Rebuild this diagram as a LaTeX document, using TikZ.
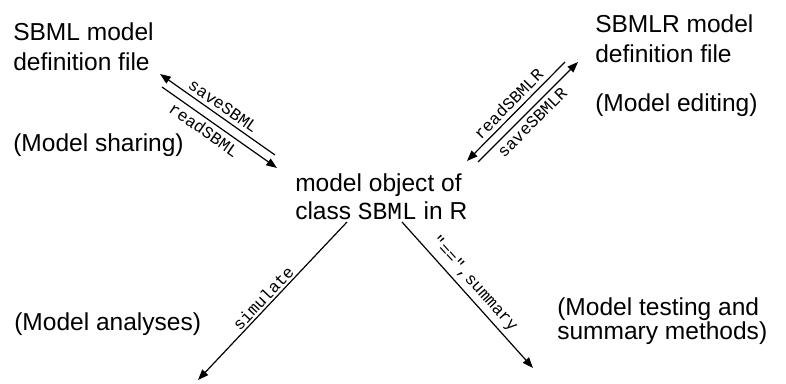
\documentclass[tikz,border=0pt]{standalone}
\usepackage{fontspec}
\setmainfont{Liberation Sans}
\setmonofont{Liberation Mono}
\usetikzlibrary{arrows.meta}

\tikzset{
  blocktext/.style={anchor=base west, inner sep=0pt, align=left,
    font=\fontsize{18.4pt}{22.5pt}\selectfont},
  funclabel/.style={inner sep=3pt,
    font=\fontsize{12.6pt}{14pt}\selectfont\ttfamily},
  callarrow/.style={line width=0.9pt, -{Triangle[length=8pt,width=6pt]}},
}

\begin{document}
\begin{tikzpicture}[x=0.75pt,y=0.75pt,yscale=-1,xscale=1]
        \useasboundingbox (0,0) rectangle (786,384);
        % text blocks (base = last line)
        \node [blocktext] (sbmlfile) at (13,71) {SBML model\\definition file};
        \node [blocktext] (sharing) at (13,152) {(Model sharing)};
        \node [blocktext] (sbmlrfile) at (595,63) {SBMLR model\\definition file};
        \node [blocktext] (editing) at (595,112) {(Model editing)};
        \node [blocktext, font=\fontsize{18.4pt}{21pt}\selectfont] (modelobj) at (295,220) {model object of\\class \texttt{SBML} in R};
        \node [blocktext] (analyses) at (14,331) {(Model analyses)};
        \node [blocktext, font=\fontsize{18.4pt}{18pt}\selectfont] (testing) at (557,340) {(Model testing and\\summary methods)};
        % arrow ends
        \coordinate (saveA) at (275,155);
        \coordinate (saveB) at (160,74);
        \coordinate (readA) at (162,87);
        \coordinate (readB) at (277,168);
        \coordinate (readrA) at (565,62);
        \coordinate (readrB) at (467,161);
        \coordinate (saverA) at (478,162);
        \coordinate (saverB) at (578,62);
        \coordinate (simA) at (347,222);
        \coordinate (simB) at (198,380);
        \coordinate (sumA) at (402,222);
        \coordinate (sumB) at (533,368);
        % arrows
        \draw [callarrow] (saveA) -- node [funclabel, rotate=-35, anchor=south] {saveSBML} (saveB);
        \draw [callarrow] (readA) -- node [funclabel, rotate=-35, anchor=north, pos=0.42] {readSBML} (readB);
        \draw [callarrow] (readrA) -- node [funclabel, rotate=45.5, anchor=south] {readSBMLR} (readrB);
        \draw [callarrow] (saverA) -- node [funclabel, rotate=45, anchor=north, pos=0.47] {saveSBMLR} (saverB);
        \draw [callarrow] (simA) -- node [funclabel, rotate=46.7, anchor=south, pos=0.52, inner sep=1.5pt] {simulate} (simB);
        \draw [callarrow] (sumA) -- node [funclabel, rotate=-48, anchor=south, pos=0.48] {"==",summary} (sumB);
\end{tikzpicture}
\end{document}
